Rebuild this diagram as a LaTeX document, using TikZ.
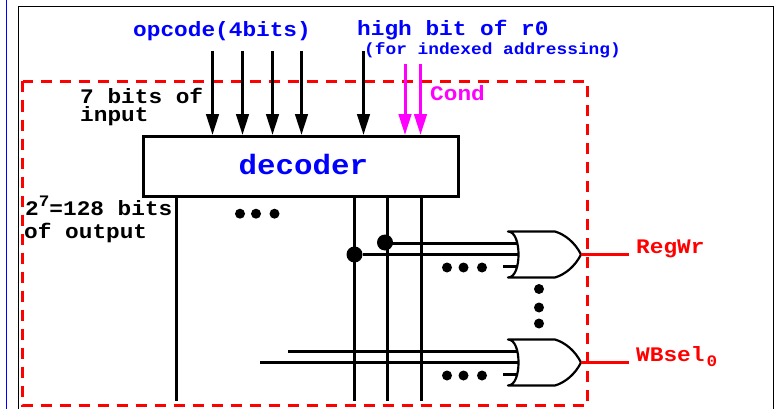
\documentclass[tikz,border=0pt]{standalone}
\usepackage{fontspec}
\newfontfamily\labelfont[FakeStretch=1.1]{Liberation Mono}
\usetikzlibrary{arrows.meta, calc}

\definecolor{condcolor}{RGB}{255,0,255}

\tikzset{
	label text/.style={inner sep=0pt, anchor=base west, font=\labelfont\bfseries\fontsize{20.7}{23}\selectfont},
	small text/.style={inner sep=0pt, anchor=base west, font=\labelfont\bfseries\fontsize{16.2}{18}\selectfont},
	wire/.style={line width=3pt},
	gate line/.style={line width=2.2pt, line join=round},
	signal/.style={line width=3pt, -{Triangle[length=21pt, width=12.5pt]}},
	bigdot/.style={circle, fill=black, inner sep=0pt, minimum size=16pt},
	smalldot/.style={circle, fill=black, inner sep=0pt, minimum size=10pt}
}

\begin{document}
\begin{tikzpicture}[x=1pt, y=-1pt]
		\useasboundingbox (0,0) rectangle (775,409);
		
		% --- 1. Page frame ---
		\draw[blue, line width=1.3pt] (6.5,0) -- (6.5,409);
		\draw[black, line width=1pt] (18.5,409) -- (18.5,6.5) -- (773,6.5) -- (773,409);
		
		% --- 2. Decoder and the dashed control block ---
		\draw[red, line width=3pt, dash pattern=on 11pt off 8pt] (22.5,81.5) rectangle (587,405.5);
		\node[draw, fill=white, line width=3pt, inner sep=0pt, minimum width=315pt, minimum height=60pt] (decoder) at (301,166.5) {};
		\node[inner sep=0pt, anchor=base west, text=blue, font=\labelfont\bfseries\fontsize{28}{30}\selectfont] (declabel) at (238.5,174.5) {decoder};
		
		% --- 3. Inputs ---
		\foreach \name/\x in {opa/212.5, opb/242.5, opc/272.5, opd/301.5, hibit/363.5} {
			\coordinate (\name) at (\x,51);
			\draw[signal] (\name) -- (\name |- decoder.north);
		}
		\foreach \name/\x in {conda/405, condb/420.5} {
			\coordinate (\name) at (\x,64);
			\draw[signal, condcolor] (\name) -- (\name |- decoder.north);
		}
		
		% --- 4. Decoder outputs ---
		\foreach \name/\x in {outa/176.5, outb/354.5, outc/387.5, outd/421.5} {
			\coordinate (\name) at (\x,401);
			\draw[wire] (\name |- decoder.south) -- (\name);
		}
		\node[bigdot] (joina) at (354.5,254.5) {};
		\node[bigdot] (joinb) at (385,242.5) {};
		
		% --- 5. OR gates ---
		\foreach \name/\y in {rw/254.5, wb/362.5} {
			\coordinate (in\name) at (518,\y);
			\coordinate (tip\name) at (581,\y);
			\coordinate (end\name) at (628.5,\y);
			\draw[gate line] (508,\y-23) .. controls (515,\y-23) and (518.5,\y-12) .. (518.5,\y)
				.. controls (518.5,\y+12) and (515,\y+23) .. (508,\y+23)
				-- (555,\y+23) .. controls (565,\y+20) and (575,\y+12) .. (tip\name)
				.. controls (575,\y-12) and (565,\y-20) .. (555,\y-23) -- cycle;
			\draw[wire, red] (tip\name) -- (end\name);
			\coordinate (stub\name) at (503,\y+12);
			\draw[wire] (stub\name) -- ++(15,0);
			% dots under the inputs
			\foreach \x in {447,463.5,482} {
				\node[smalldot] at (\x,\y+13) {};
			}
		}
		\coordinate (rwb) at (385,243.5);
		\draw[wire] (joina) -- (inrw);
		\draw[wire] (rwb) -- (rwb -| inrw);
		\coordinate (wba) at (288,351.5);
		\coordinate (wbb) at (260,362.5);
		\draw[wire] (wba) -- (wba -| inwb);
		\draw[wire] (wbb) -- (inwb);
		
		% --- 6. The other dots ---
		\foreach \x in {240,256,274.5} {
			\node[smalldot] at (\x,213.7) {};
		}
		\foreach \y in {289,307.5,323.5} {
			\node[smalldot] at (539,\y) {};
		}
		
		% --- 7. Labels ---
		\node[label text, blue] (opcode) at (133,37) {opcode(4bits)};
		\node[label text, blue] (hilabel) at (357,36) {high bit of r0};
		\node[small text, blue] (forlabel) at (364,54.5) {(for indexed addressing)};
		\node[label text, condcolor] (cond) at (430,100.5) {Cond};
		\node[label text, align=left] (seven) at (80,121.5) {7 bits of\\[-4.5pt]input};
		\node[label text] (twoseven) at (25,215) {2\raisebox{9pt}{\fontsize{16}{16}\selectfont 7}=128 bits};
		\node[label text] (ofout) at (24,238) {of output};
		\node[label text, red] (regwr) at (636,253.5) {RegWr};
		\node[label text, red] (wbsel) at (636,361.5) {WBsel\hspace{2pt}\raisebox{-5pt}{\fontsize{16}{16}\selectfont 0}};
		
	\end{tikzpicture}
\end{document}
